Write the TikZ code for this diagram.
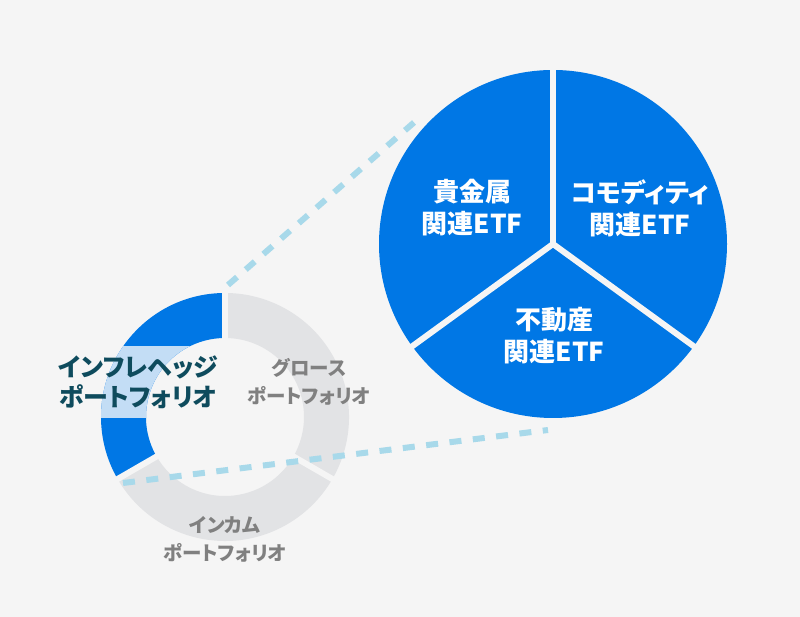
\documentclass[tikz,border=0pt]{standalone}
\usepackage{fontspec}
\usepackage{tikz}
\setmainfont{Noto Sans CJK JP}[RawFeature=+palt]
\definecolor{pagebg}{HTML}{F5F5F5}
\definecolor{etfblue}{HTML}{0077E5}
\definecolor{hedgelight}{HTML}{C3DDF5}
\definecolor{ringgray}{HTML}{E2E3E5}
\definecolor{zoomline}{HTML}{A8D9EA}
\definecolor{hedgeteal}{HTML}{0E4B5D}
\definecolor{labelgray}{HTML}{808080}

\begin{document}
\begin{tikzpicture}[x=1pt,y=1pt,
    etflabel/.style={text=white,font=\bfseries\fontsize{26}{32}\selectfont,align=center},
    ringlabel/.style={text=labelgray,font=\bfseries\fontsize{19.5}{28}\selectfont,align=center},
    zoomedge/.style={zoomline,line width=6pt,dash pattern=on 12pt off 11.5pt}]
        \fill[pagebg] (0,0) rectangle (800,617);
        \useasboundingbox (0,0) rectangle (800,617);
        % donut of the three portfolios
        \coordinate (donut) at (225,200);
        \foreach \a/\b/\col in {90/210/etfblue,210/330/ringgray,330/450/ringgray}{
          \fill[\col,shift={(donut)}] (\a:124) arc[start angle=\a,end angle=\b,radius=124]
            -- (\b:79) arc[start angle=\b,end angle=\a,radius=79] -- cycle;
        }
        \begin{scope}
          \clip (90,199) rectangle (230,270);
          \fill[hedgelight,shift={(donut)}] (90:124) arc[start angle=90,end angle=210,radius=124]
            -- (210:79) arc[start angle=210,end angle=90,radius=79] -- cycle;
        \end{scope}
        \foreach \a in {90,210,330}
          \draw[pagebg,line width=6pt] (donut) -- ++(\a:130);
        % zoomed pie
        \coordinate (pie) at (553,373);
        \fill[etfblue] (pie) circle[radius=174];
        \foreach \a in {90,216,324}
          \draw[pagebg,line width=6pt] (pie) -- ++(\a:176);
        \node[etflabel] (metal) at (472,409) {貴金属\\関連ETF};
        \node[etflabel] (commodity) at (640,409) {コモディティ\\関連ETF};
        \node[etflabel] (realestate) at (554,281) {不動産\\関連ETF};
        \node[text=hedgeteal,font=\bfseries\fontsize{25}{30}\selectfont,align=center] (hedge) at (138,235) {インフレヘッジ\\ポートフォリオ};
        \node[ringlabel] (growth) at (309,235) {グロース\\ポートフォリオ};
        \node[ringlabel] (income) at (225,78) {インカム\\ポートフォリオ};
        % zoom lines
        \coordinate (hedgetop) at (228,332);
        \coordinate (hedgebottom) at (123,134);
        \coordinate (pietop) at (418,498);
        \coordinate (piebottom) at (548,187);
        \draw[zoomedge] (hedgetop) -- (pietop);
        \draw[zoomedge] (hedgebottom) -- (piebottom);
      \end{tikzpicture}
\end{document}
